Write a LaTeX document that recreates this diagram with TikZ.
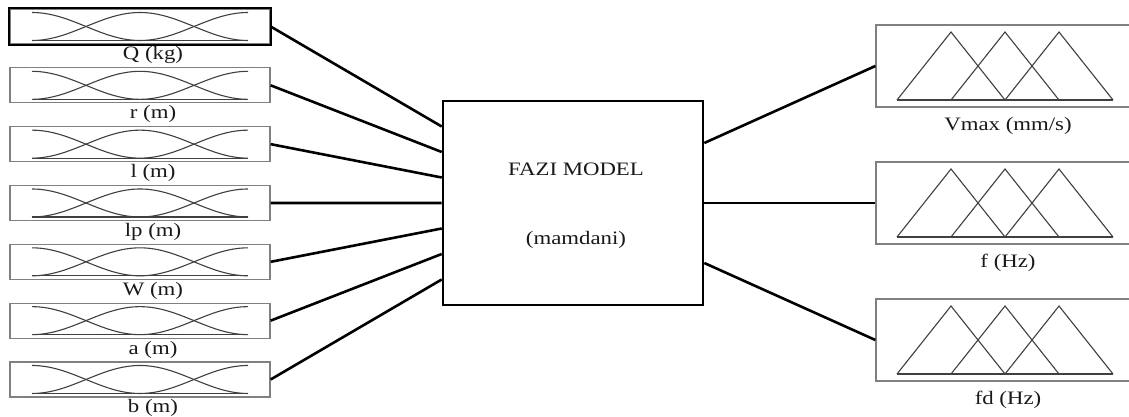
\documentclass[tikz,border=0pt]{standalone}
\usepackage{fontspec}
\setmainfont{Liberation Serif}
\usetikzlibrary{positioning}

\newcommand{\wide}[1]{\scalebox{1.2}[1]{#1}}

\tikzset{
  inbox/.style={draw=black!50, line width=1.3pt, minimum width=260pt, minimum height=35pt, inner sep=0pt},
  outbox/.style={draw=black!50, line width=1.3pt, minimum width=264pt, minimum height=82pt, inner sep=0pt},
  mf/.style={black!75, line width=1.1pt},
  conn/.style={line width=2.6pt},
  lbl/.style={font=\fontsize{19}{22}\selectfont, text=black!90, inner sep=0pt, anchor=base},
}

\begin{document}
\begin{tikzpicture}[x=1pt,y=-1pt]
  \clip (0,0) rectangle (1129,417);
  \fill[white] (0,0) rectangle (1129,417);
  % model block
  \node[draw, line width=2.6pt, minimum width=260pt, minimum height=204pt] (fazi) at (573,203) {};
  \node[lbl] (title) at (576,175) {\wide{FAZI MODEL}};
  \node[lbl] (kind) at (576,244) {\wide{(mamdani)}};
  % inputs
  \foreach \txt [count=\i from 0] in {Q (kg), r (m), l (m), lp (m), W (m), a (m), b (m)} {
    \node[inbox] (in\i) at (140, 26.5+58.83*\i) {};
    \begin{scope}[shift={(in\i.center)}, mf]
      \draw (-108,-14) cos (-54,0) sin (0,14);
      \draw (-108,14) cos (-54,0) sin (0,-14) cos (54,0) sin (108,14);
      \draw (0,14) cos (54,0) sin (108,-14);
      \draw (-108,14) -- (108,14);
    \end{scope}
    \node[lbl] (lab\i) at (153, 60+58.83*\i) {\wide{\txt}};
    \draw[conn] (in\i.east) -- ([yshift={(3-\i)*25.5pt}]fazi.west);
  }
  \draw[line width=2pt] (in0.south west) rectangle (in0.north east);
  % outputs
  \foreach \txt [count=\j from 0] in {Vmax (mm/s), f (Hz), fd (Hz)} {
    \node[outbox] (out\j) at (1008, 66+137*\j) {};
    \begin{scope}[shift={(out\j.center)}, mf]
      \foreach \p in {-57,-3,51} \draw (\p-54,34) -- (\p,-34) -- (\p+54,34);
      \draw (-111,34) -- (105,34);
    \end{scope}
    \node[lbl] (olab\j) at (1008, 130.5+137*\j) {\wide{\txt}};
    \draw[conn] ([yshift={(1-\j)*60pt}]fazi.east) -- (out\j.west);
  }
\end{tikzpicture}
\end{document}
